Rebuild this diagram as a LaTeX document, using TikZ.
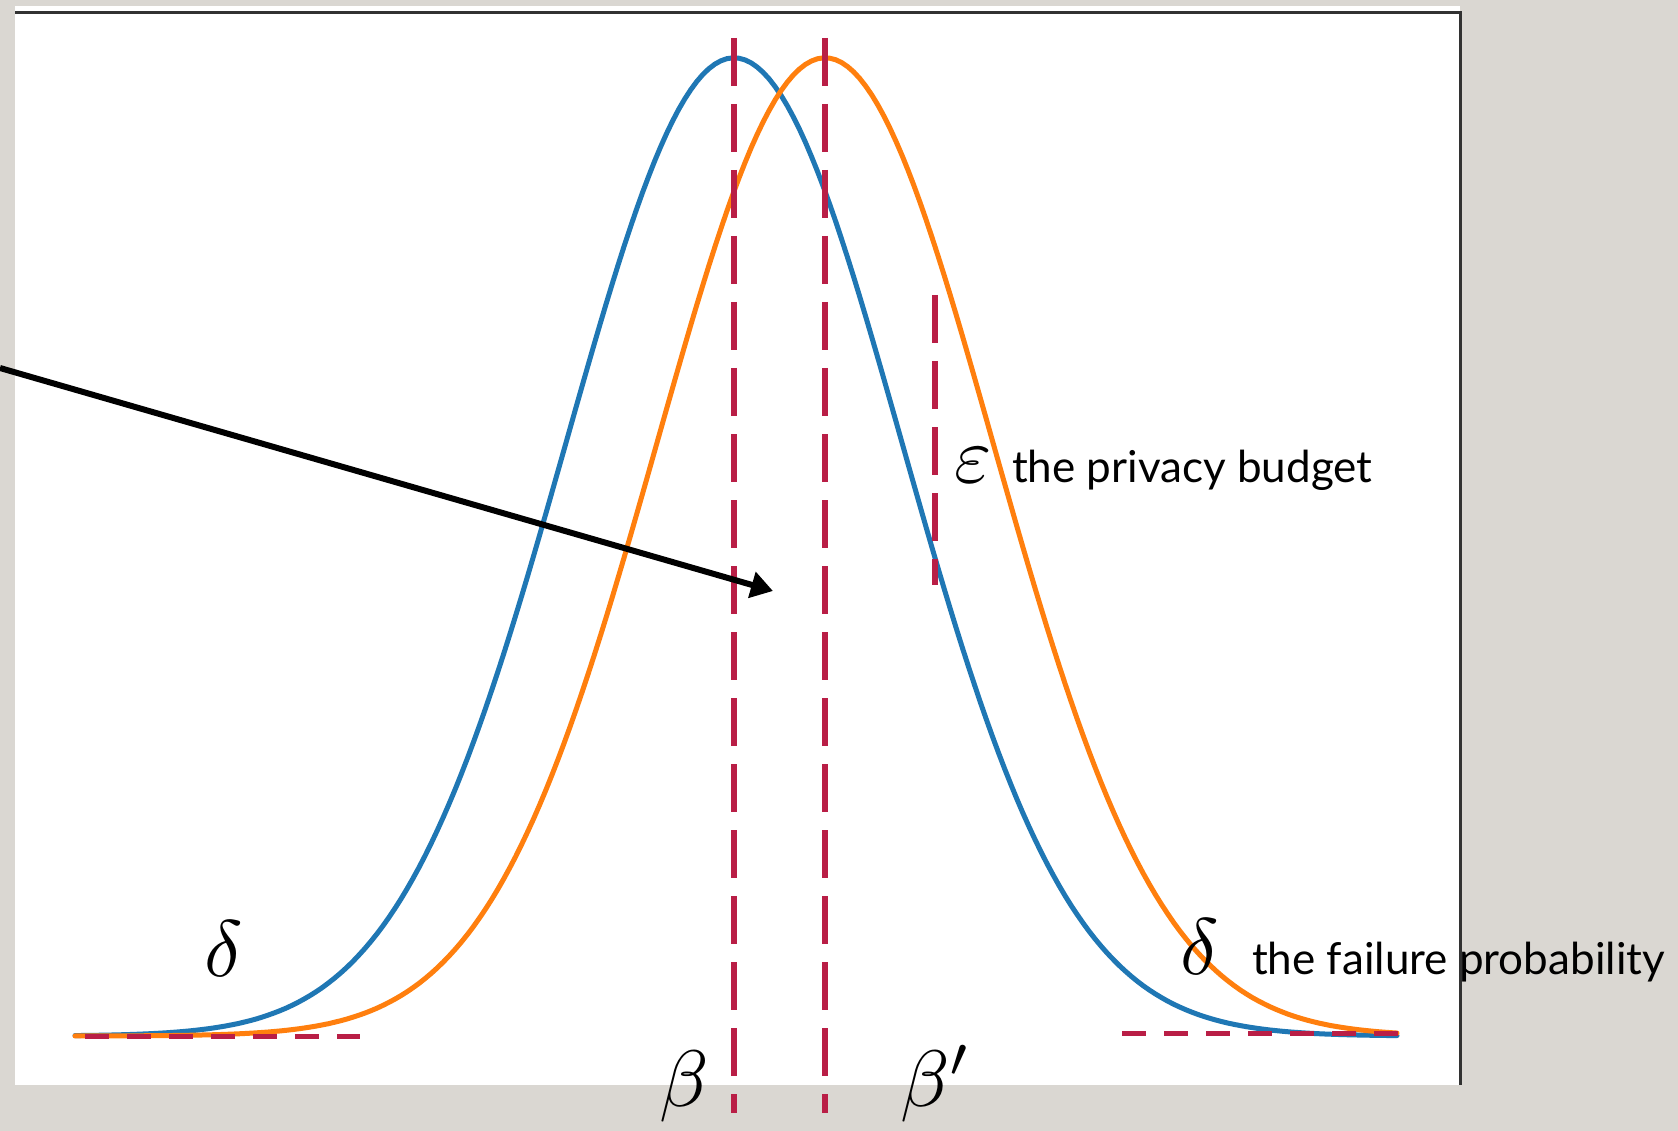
\documentclass[tikz,border=0pt]{standalone}
\usepackage{fontspec}
\setmainfont{Lato}
\usetikzlibrary{arrows.meta}

\definecolor{slidegray}{RGB}{218,215,210}
\definecolor{framedark}{RGB}{50,50,50}
\definecolor{crimson}{RGB}{185,30,70}
\definecolor{tabblue}{RGB}{31,119,180}
\definecolor{taborange}{RGB}{255,127,14}

\begin{document}
\begin{tikzpicture}[
    x=1pt, y=-1pt,
    every node/.style={inner sep=0pt, outer sep=0pt},
    density/.style={line width=5pt, line cap=round},
    bound/.style={draw=crimson, line width=6pt, dash pattern=on 48pt off 18pt},
    tailmark/.style={draw=crimson, line width=5pt, dash pattern=on 24pt off 18pt},
    greek/.style={scale=8, anchor=base},
    caption/.style={font=\fontsize{44}{50}\selectfont, anchor=base west},
    pointer/.style={-{Triangle[length=22pt, width=26pt]}, line width=6pt}
  ]
    \useasboundingbox (0,0) rectangle (1678,1131);
    % slide and plot panel
    \fill[slidegray] (0,0) rectangle (1678,1131);
    \fill[white] (15,6) rectangle (1460,1085);
    \draw[framedark, line width=3pt] (15,12.5) -- (1460,12.5) -- (1460,1085);

    % the two densities
    \draw[density, tabblue] plot[domain=75:1397, samples=220]
      (\x, {1036-978*exp(-0.5*((\x-734)/168)^2)});
    \draw[density, taborange] plot[domain=75:1397, samples=220]
      (\x, {1036-978*exp(-0.5*((\x-825)/168)^2)});

    % dashed marks
    \draw[bound] (734,38) -- (734,1113);
    \draw[bound] (825,38) -- (825,1113);
    \draw[bound] (935,295) -- (935,585);
    \draw[tailmark] (85,1036) -- (360,1036);
    \draw[tailmark] (1122,1033) -- (1399,1033);

    % arrow from outside the panel
    \coordinate (src) at (0,368);
    \coordinate (tip) at (773,591);
    \draw[pointer] (src) -- (tip);

    % labels
    \node[greek] (eps) at (973,482) {$\varepsilon$};
    \node[caption] (budget) at (1012,482) {the privacy budget};
    \node[greek] (deltaL) at (224,976) {$\delta$};
    \node[greek] (deltaR) at (1200,974) {$\delta$};
    \node[caption] (failure) at (1252,974) {the failure probability};
    \node[greek] (beta) at (684,1106) {$\beta$};
    \node[greek] (betap) at (936,1106) {$\beta'$};
  \end{tikzpicture}
\end{document}
